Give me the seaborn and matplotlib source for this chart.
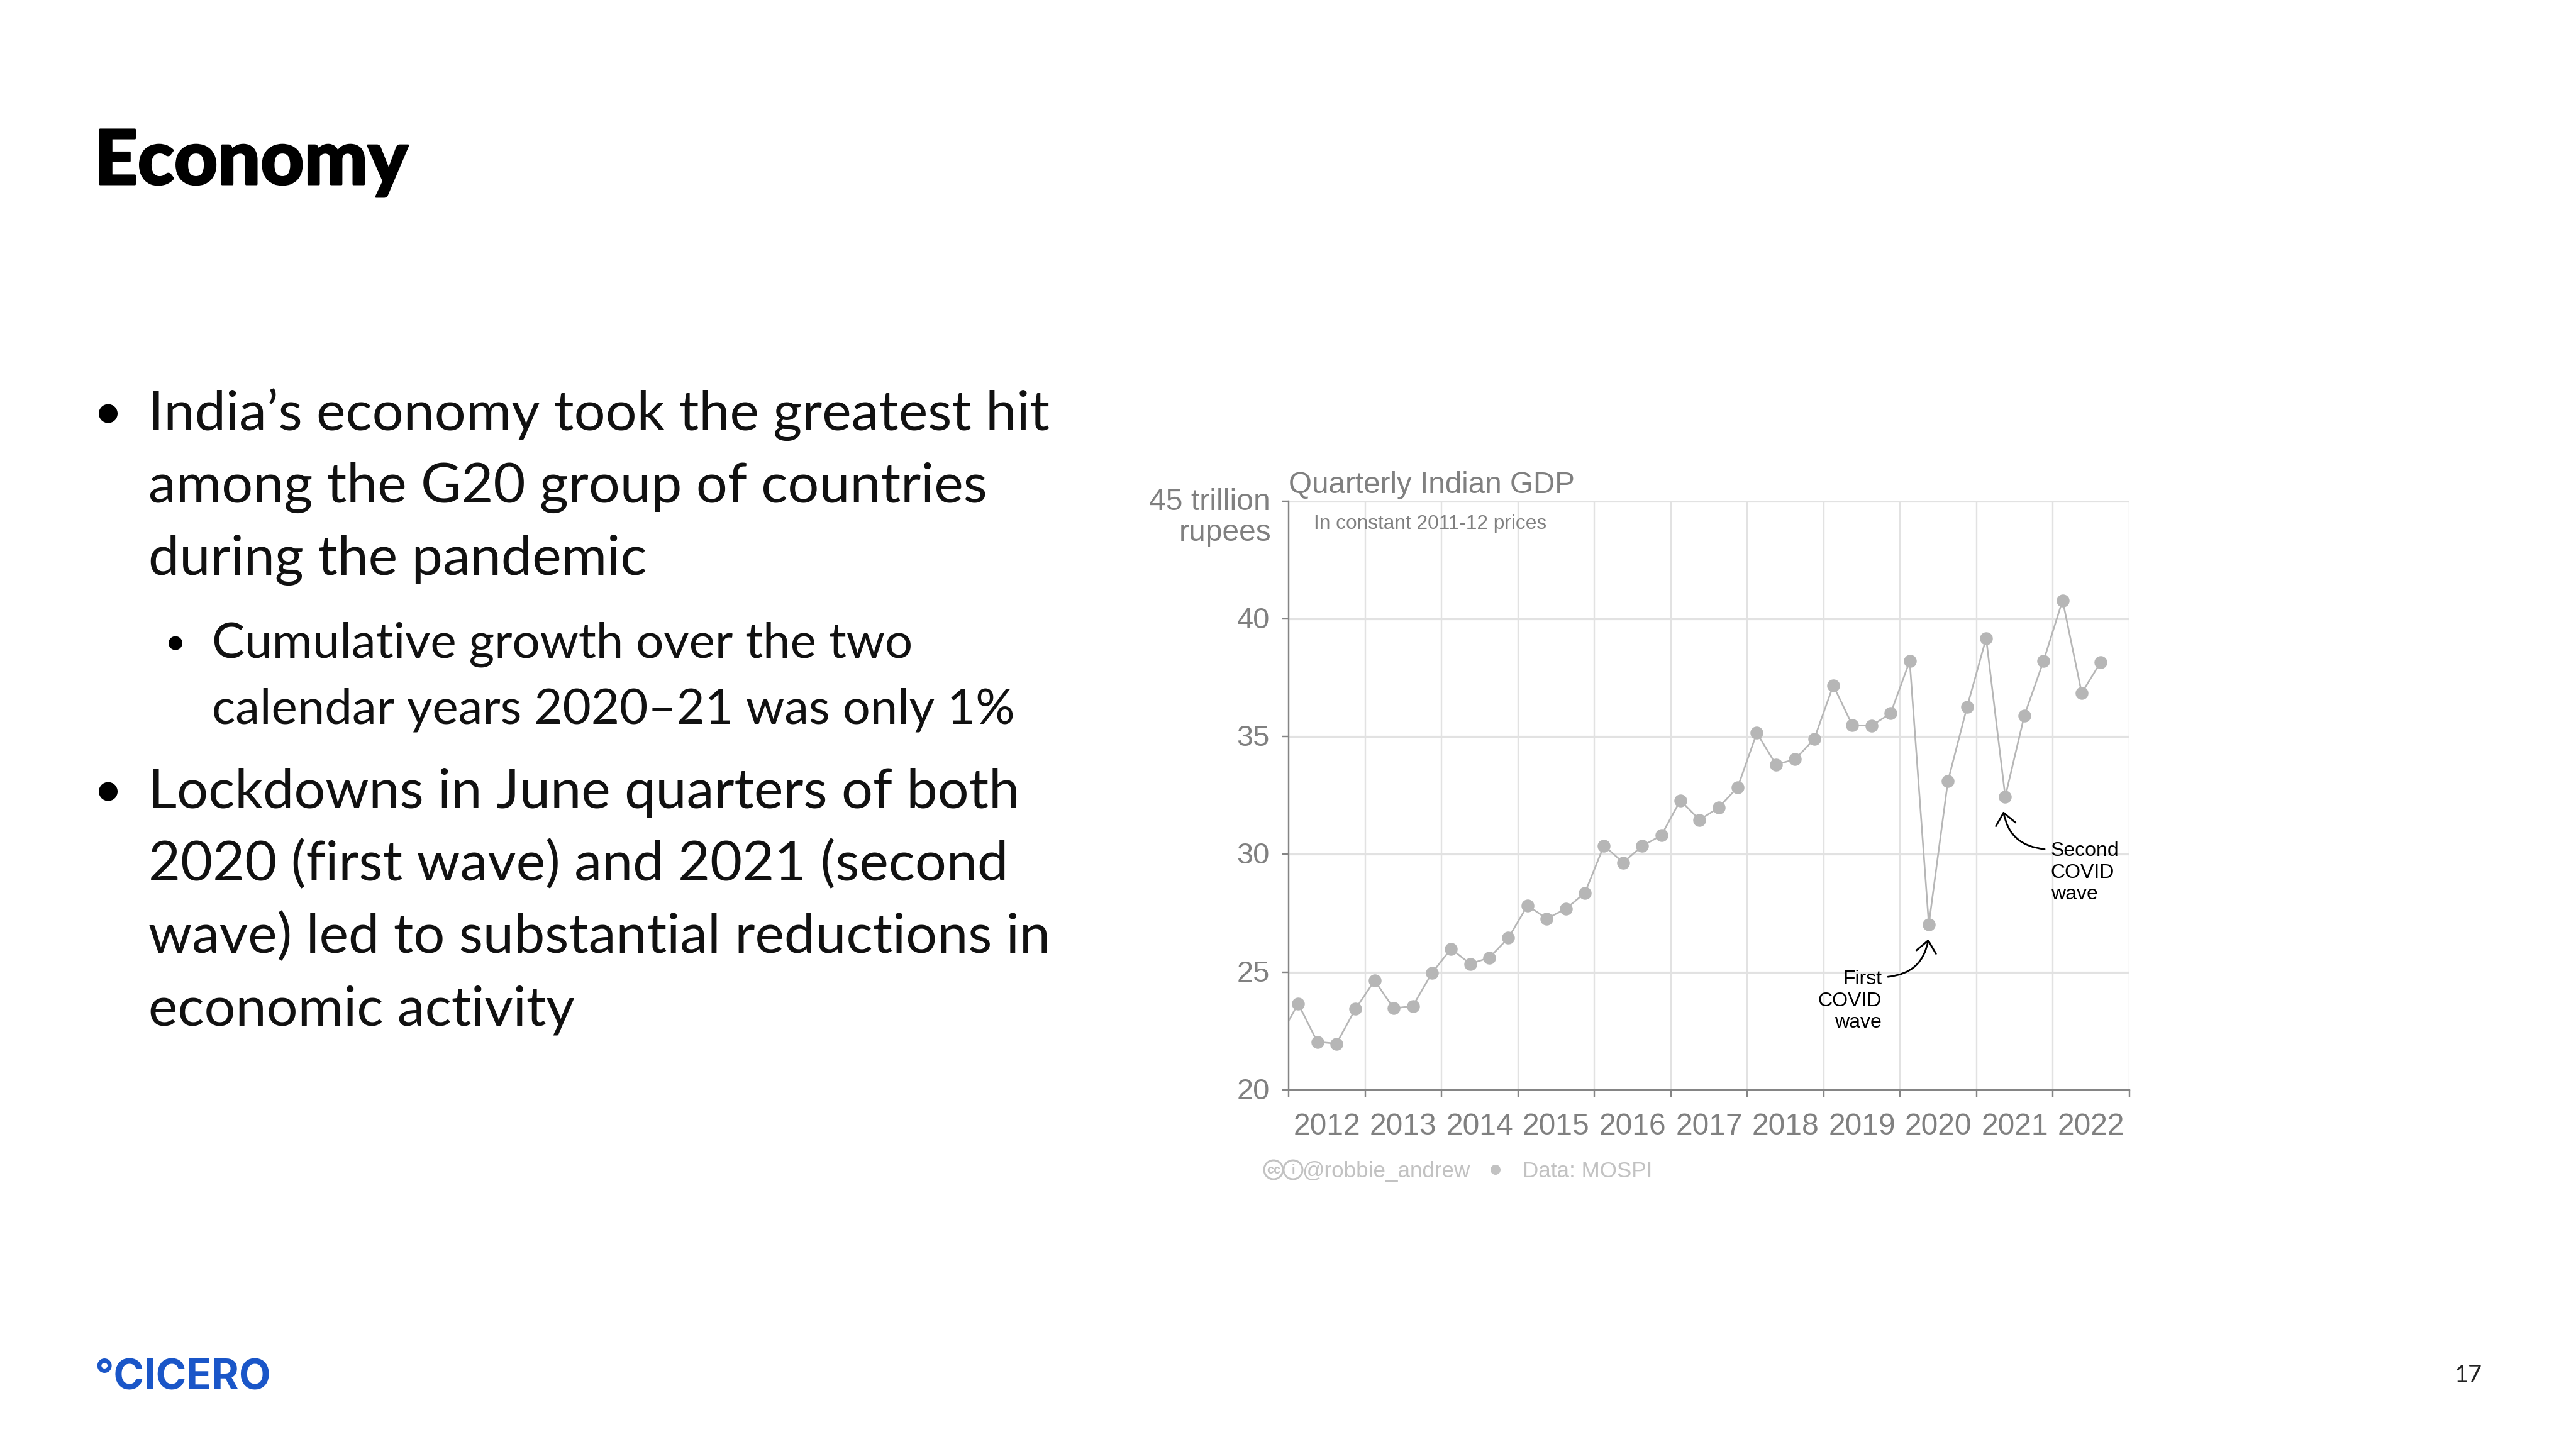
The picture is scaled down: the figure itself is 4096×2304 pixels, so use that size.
import matplotlib
matplotlib.use("Agg")
import matplotlib.pyplot as plt
import matplotlib.patheffects as pe
from matplotlib.patches import Circle
from matplotlib.transforms import ScaledTranslation
import numpy as np
import pandas as pd
import seaborn as sns

# ---- data ----
years = list(range(2012, 2023))
year_labels = [str(y) for y in years]
y_ticks = [20, 25, 30, 35, 40, 45]
y_tick_labels = ["20", "25", "30", "35", "40", ""]
prior_quarter = [22.2]   # 2011 Q4, only its line stub shows at the left axis
gdp_2012_2016 = [23.66, 22.04, 21.96, 23.44, 24.64, 23.46, 23.56, 24.96, 25.99, 25.35,
                 25.61, 26.45, 27.83, 27.27, 27.68, 28.36, 30.37, 29.65, 30.35, 30.80]
gdp_2017_2022 = [32.29, 31.46, 31.98, 32.85, 35.15, 33.81, 34.03, 34.89, 37.17, 35.48,
                 35.46, 35.98, 38.20, 27.03, 33.11, 36.25, 39.17, 32.45, 35.89, 38.20,
                 40.78, 36.85, 38.16]

title = "Economy"
bullets = [
    ("main", ["India’s economy took the greatest hit", "among the G20 group of countries", "during the pandemic"]),
    ("sub", ["Cumulative growth over the two", "calendar years 2020–21 was only 1%"]),
    ("main", ["Lockdowns in June quarters of both", "2020 (first wave) and 2021 (second",
              "wave) led to substantial reductions in", "economic activity"]),
]

W, H = 4096, 2304
DPI = 100
def pt(px):
    return px * 72 / DPI

sns.set_theme(style="white")
plt.rcParams["font.family"] = ["Liberation Sans", "DejaVu Sans"]

fig = plt.figure(figsize=(W / DPI, H / DPI), dpi=DPI, facecolor="white")
L, R, T, B = 2049, 3386, 796.5, 1733
ax = fig.add_axes([L / W, 1 - B / H, (R - L) / W, (B - T) / H])

values = prior_quarter + gdp_2012_2016 + gdp_2017_2022
time = 2011.875 + np.arange(len(values)) * 0.25
df = pd.DataFrame({"time": time, "gdp": values})

GRID = "#e2e2e2"
AXC = "#858585"
MARK = "#b6b6b6"

sns.lineplot(data=df, x="time", y="gdp", ax=ax, color=MARK, linewidth=pt(2.6),
             marker="o", markersize=pt(20.5), markeredgewidth=0, zorder=3, clip_on=True)

ax.set_xlim(2012, 2023)
ax.set_ylim(20, 45)
ax.set_xticks(years + [2023])
ax.set_xticklabels([""] * (len(years) + 1))
ax.set_yticks(y_ticks)
ax.set_yticklabels(y_tick_labels)
ax.set_xlabel("")
ax.set_ylabel("")
ax.grid(True, axis="y", color=GRID, linewidth=pt(3.2), zorder=0)
ax.grid(True, axis="x", color=GRID, linewidth=pt(2.4), zorder=0)
ax.set_axisbelow(True)
ax.tick_params(axis="both", which="major", direction="out", length=pt(11), width=pt(2.4), color=AXC,
               labelcolor="#808080", labelsize=pt(47), pad=pt(19), bottom=True, left=True)
ax.tick_params(axis="x", pad=0)
for lab in ax.get_yticklabels():
    lab.set_transform(lab.get_transform() + ScaledTranslation(0, 2 / DPI, fig.dpi_scale_trans))
for s in ["top", "right"]:
    ax.spines[s].set_visible(False)
for s in ["left", "bottom"]:
    ax.spines[s].set_visible(True)
    ax.spines[s].set_color(AXC)
    ax.spines[s].set_linewidth(pt(2.4))

for y, lab in zip(years, year_labels):
    ax.annotate(lab, xy=(y + 0.5, 0), xycoords=("data", "axes fraction"),
                xytext=(y + 0.5, 1 - 1791 / H), textcoords=("data", "figure fraction"),
                ha="center", va="center", fontsize=pt(48), color="#808080")

def ftext(x, y, s, **kw):
    kw.setdefault("va", "baseline")
    return fig.text(x / W, 1 - y / H, s, **kw)

ftext(2020, 811, "45 trillion", ha="right", fontsize=pt(48), color="#808080")
ftext(2022, 860, "rupees", ha="right", fontsize=pt(48), color="#808080")
ftext(2049, 784, "Quarterly Indian GDP", ha="left", fontsize=pt(47.6), color="#808080")
ftext(2089, 840.5, "In constant 2011-12 prices", ha="left", fontsize=pt(31.6), color="#808080")

ann = dict(ha="right", va="center", fontsize=pt(32), color="black", linespacing=1.2)
ax.text(2019.76, 23.77, "First\nCOVID\nwave", **ann)
ax.text(2021.97, 29.22, "Second\nCOVID\nwave", **{**ann, "ha": "left"})
arrow = dict(arrowstyle="->,head_length=0.45,head_width=0.38", mutation_scale=30, color="black",
             lw=pt(2.8), shrinkA=0, shrinkB=0)
ax.annotate("", xy=(2020.37, 26.4), xytext=(2019.84, 24.8), xycoords="data",
            arrowprops={**arrow, "connectionstyle": "arc3,rad=0.38"})
ax.annotate("", xy=(2021.35, 31.82), xytext=(2021.89, 30.22), xycoords="data",
            arrowprops={**arrow, "connectionstyle": "arc3,rad=-0.38"})

# footer
FOOT = "#c2c2c2"
for cx, inner in [(2025, "cc"), (2056, "i")]:
    fig.add_artist(Circle((cx, H - 1860), 15, transform=None, fill=False,
                          edgecolor=FOOT, linewidth=pt(3)))
    fig.text(cx / W, 1 - 1860 / H, inner, ha="center", va="center", fontsize=pt(20),
             color=FOOT, fontweight="bold")
ftext(2070, 1872, "@robbie_andrew", ha="left", fontsize=pt(35), color=FOOT)
fig.add_artist(Circle((2378, H - 1860), 8, transform=None, facecolor=FOOT, edgecolor="none"))
ftext(2421, 1872, "Data: MOSPI", ha="left", fontsize=pt(35), color=FOOT)

# slide text
SLIDE = ["Lato", "DejaVu Sans"]
ftext(150, 293, title, ha="left", family=SLIDE, fontweight="black", fontsize=pt(120), color="black",
      path_effects=[pe.withStroke(linewidth=pt(3), foreground="black")])
MAIN_Y = [[684, 799, 914], [1046, 1150], [1285, 1400, 1515, 1630]]
for (kind, lines), ys in zip(bullets, MAIN_Y):
    tx, bx, size, br = (236, 172, 88, 15) if kind == "main" else (337, 279, 78, 11)
    fig.add_artist(Circle((bx, H - (ys[0] - size * 0.30)), br, transform=None,
                          facecolor="black", edgecolor="none"))
    for line, y in zip(lines, ys):
        ftext(tx, y, line, ha="left", family=SLIDE, fontweight="regular",
              fontsize=pt(size), color="#111111")

ftext(150, 2210, "°CICERO", ha="left", family=["Inter", "DejaVu Sans"], fontweight="bold",
      fontsize=pt(66), color="#1a56c8")
ftext(3925, 2198, "17", ha="center", family=SLIDE, fontweight="regular", fontsize=pt(38), color="#222222")

fig.savefig("out.png", dpi=DPI, facecolor="white")
